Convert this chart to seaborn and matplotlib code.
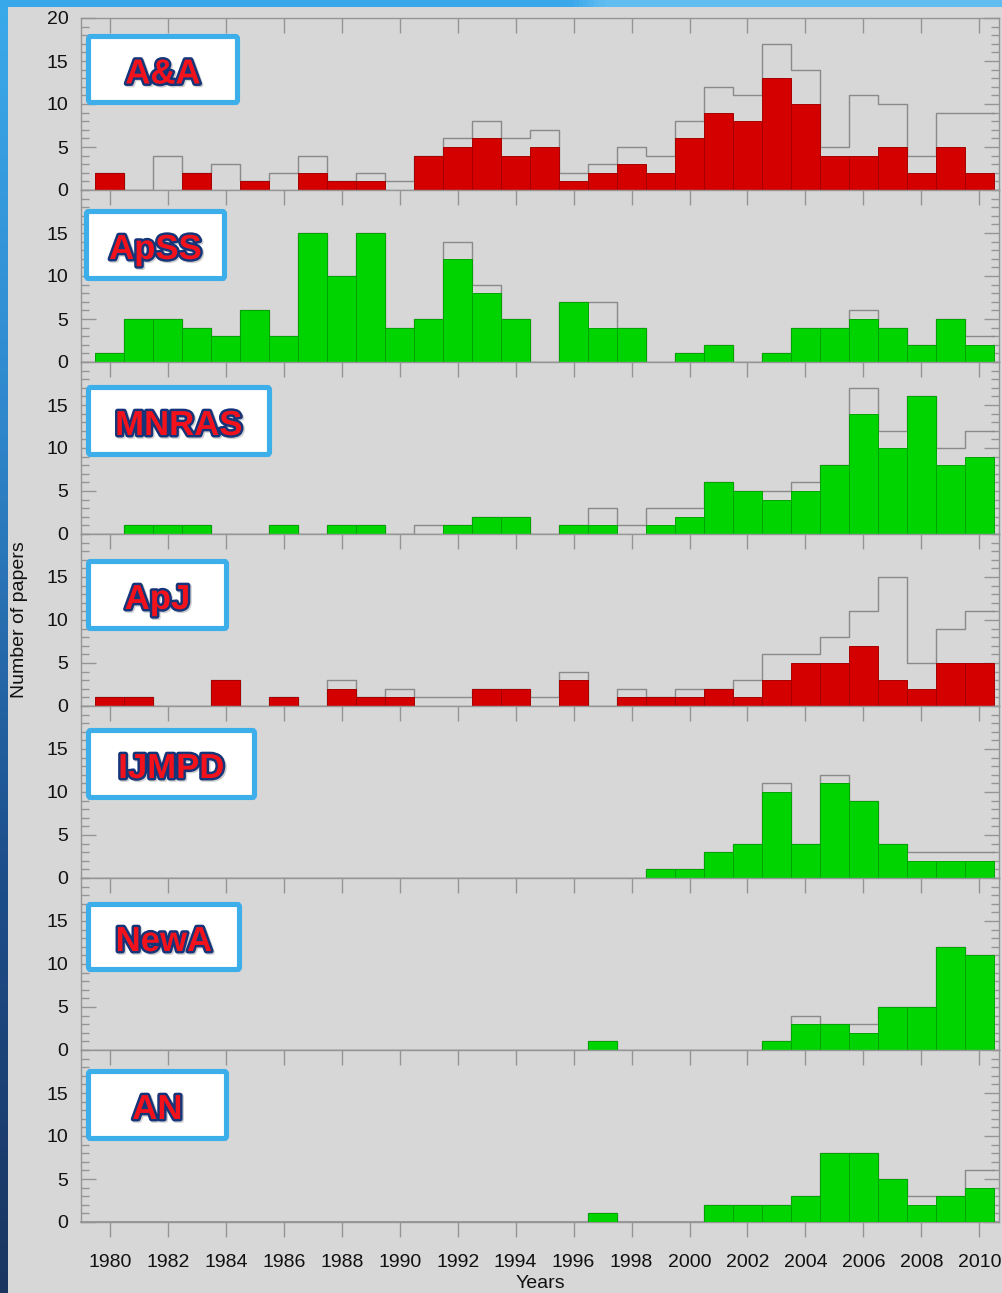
"""Papers per year in seven journals, stacked histogram panels."""

import matplotlib
matplotlib.use('Agg')  # no display
import matplotlib.pyplot as plt
import matplotlib.patheffects as pe
from matplotlib.patches import FancyBboxPatch
from matplotlib.colors import LinearSegmentedColormap
from matplotlib.ticker import MultipleLocator
import numpy as np
import seaborn as sns

# ---- data ----
years = list(range(1980, 2011))
journals = ["A&A", "ApSS", "MNRAS", "ApJ", "IJMPD", "NewA", "AN"]

# filled bars
aa_sel = [2, 0, 0, 2, 0, 1, 0, 2, 1, 1, 0, 4, 5, 6, 4, 5, 1, 2, 3, 2, 6, 9, 8, 13, 10, 4, 4, 5, 2, 5, 2]
apss_sel = [1, 5, 5, 4, 3, 6, 3, 15, 10, 15, 4, 5, 12, 8, 5, 0, 7, 4, 4, 0, 1, 2, 0, 1, 4, 4, 5, 4, 2, 5, 2]
mnras_sel = [0, 1, 1, 1, 0, 0, 1, 0, 1, 1, 0, 0, 1, 2, 2, 0, 1, 1, 0, 1, 2, 6, 5, 4, 5, 8, 14, 10, 16, 8, 9]
apj_sel = [1, 1, 0, 0, 3, 0, 1, 0, 2, 1, 1, 0, 0, 2, 2, 0, 3, 0, 1, 1, 1, 2, 1, 3, 5, 5, 7, 3, 2, 5, 5]
ijmpd_sel = [0] * 19 + [1, 1, 3, 4, 10, 4, 11, 9, 4, 2, 2, 2]
newa_sel = [0] * 17 + [1, 0, 0, 0, 0, 0, 1, 3, 3, 2, 5, 5, 12, 11]
an_sel = [0] * 17 + [1, 0, 0, 0, 2, 2, 2, 3, 8, 8, 5, 2, 3, 4]

# grey outline (all papers)
aa_all = [2, 0, 4, 2, 3, 1, 2, 4, 1, 2, 1, 4, 6, 8, 6, 7, 2, 3, 5, 4, 8, 12, 11, 17, 14, 5, 11, 10, 4, 9, 9]
apss_all = [1, 5, 5, 4, 3, 6, 3, 15, 10, 15, 4, 5, 14, 9, 5, 0, 7, 7, 4, 0, 1, 2, 0, 1, 4, 4, 6, 4, 2, 5, 3]
mnras_all = [0, 1, 1, 1, 0, 0, 1, 0, 1, 1, 0, 1, 1, 2, 2, 0, 1, 3, 1, 3, 3, 6, 5, 5, 6, 8, 17, 12, 16, 10, 12]
apj_all = [1, 1, 0, 0, 3, 0, 1, 0, 3, 1, 2, 1, 1, 2, 2, 1, 4, 0, 2, 1, 2, 2, 3, 6, 6, 8, 11, 15, 5, 9, 11]
ijmpd_all = [0] * 19 + [1, 1, 3, 4, 11, 4, 12, 9, 4, 3, 3, 3]
newa_all = [0] * 17 + [1, 0, 0, 0, 0, 0, 1, 4, 3, 3, 5, 5, 12, 11]
an_all = [0] * 17 + [1, 0, 0, 0, 2, 2, 2, 3, 8, 8, 5, 3, 3, 6]

selected = [aa_sel, apss_sel, mnras_sel, apj_sel, ijmpd_sel, newa_sel, an_sel]
totals = [aa_all, apss_all, mnras_all, apj_all, ijmpd_all, newa_all, an_all]

# ---- style / layout ----
W, H = 1003, 1293
BG = '#d7d7d7'
RED, RED_EDGE = '#d40000', '#a50000'
GREEN, GREEN_EDGE = '#00d400', '#00a300'
bar_colors = [RED, GREEN, GREEN, RED, GREEN, GREEN, GREEN]
edge_colors = [RED_EDGE, GREEN_EDGE, GREEN_EDGE, RED_EDGE, GREEN_EDGE, GREEN_EDGE, GREEN_EDGE]
AXIS_GREY = '#959595'

# label boxes in pixels: x0, y0, x1, y1 (outer edges)
label_boxes = [
    (86, 34, 240, 105),
    (84, 209, 227, 281),
    (86, 385, 272, 457),
    (86, 559, 229, 631),
    (86, 728, 257, 800),
    (86, 902, 242, 972),
    (86, 1069, 229, 1141),
]

sns.set_theme(style="white")
plt.rcParams['font.family'] = ['Liberation Sans', 'DejaVu Sans']

fig, axes = plt.subplots(7, 1, sharex=True, figsize=(W / 100, H / 100), dpi=100)
fig.patch.set_facecolor(BG)
fig.subplots_adjust(left=81 / W, right=999 / W, top=1 - 18 / H, bottom=1 - 1222 / H, hspace=0)

for i, ax in enumerate(axes):
    ax.set_facecolor(BG)

    # outline of all papers
    sns.histplot(x=years, weights=totals[i], discrete=True, element='step', fill=False,
                 color='#8a8a8a', linewidth=1.0, ax=ax)
    # filled bars
    sns.histplot(x=years, weights=selected[i], discrete=True, color=bar_colors[i],
                 edgecolor=edge_colors[i], linewidth=0.7, alpha=1, ax=ax, zorder=3)
    for p in ax.patches:
        if p.get_height() == 0:
            p.set_visible(False)

    ax.set_xlim(1979.0, 2010.68)
    ax.set_ylim(0, 20)
    ax.set_ylabel('')
    ax.set_xlabel('')

    ax.set_yticks([0, 5, 10, 15, 20] if i == 0 else [0, 5, 10, 15])
    ax.yaxis.set_minor_locator(MultipleLocator(1))
    ax.tick_params(axis='y', which='major', direction='in', left=True, right=True,
                   length=11, width=1, color=AXIS_GREY, labelsize=14, pad=9, labelcolor='#111111')
    ax.tick_params(axis='y', which='minor', direction='in', left=True, right=True,
                   length=6, width=1, color=AXIS_GREY)

    ax.set_xticks(range(1980, 2011, 2))
    ax.tick_params(axis='x', which='major', direction='in', top=True, bottom=False,
                   labelbottom=False, length=11, width=1, color=AXIS_GREY)

    for s in ax.spines.values():
        s.set_color(AXIS_GREY)
        s.set_linewidth(1)

# bottom axis with outward ticks and year labels
sec = axes[-1].secondary_xaxis('bottom')
sec.set_xticks(range(1980, 2011, 2))
sec.tick_params(direction='out', length=11, width=1, color=AXIS_GREY, labelsize=14,
                pad=12, labelcolor='#111111')
sec.spines['bottom'].set_color(AXIS_GREY)
sec.set_xlabel('Years', fontsize=14, labelpad=3, color='#111111')

fig.text(20 / W, 1 - 620 / H, 'Number of papers', rotation=90, ha='center', va='center',
         fontsize=14, color='#111111')

# journal label boxes
text_fx = [
    pe.SimpleLineShadow(offset=(1, -1), shadow_color='#606060', alpha=0.3, linewidth=3.5),
    pe.Stroke(linewidth=3.5, foreground='#15357a'),
    pe.Normal(),
]
for name, (x0, y0, x1, y1) in zip(journals, label_boxes):
    box = FancyBboxPatch((x0 / W + 2.5 / W, 1 - (y1 - 2.5) / H), (x1 - x0 - 5) / W, (y1 - y0 - 5) / H,
                         boxstyle='round,pad=0,rounding_size=0.002', transform=fig.transFigure,
                         facecolor='white', edgecolor='#3caeea', linewidth=3.7, zorder=5)
    fig.add_artist(box)
    cx = (x0 + x1) / 2
    base = (y0 + y1) / 2 + 14
    fig.text(cx / W, 1 - base / H, name, ha='center', va='baseline', fontsize=25,
             fontweight='bold', color='#f2121c', path_effects=text_fx, zorder=6)

# blue frame strips on the left and top
left_cmap = LinearSegmentedColormap.from_list('lf', ['#3aaaeb', '#2f86cb', '#1d4f8c', '#1a3560'])
lax = fig.add_axes([0, 0, 8 / W, 1])
lax.imshow(np.linspace(0, 1, 256).reshape(-1, 1), aspect='auto', cmap=left_cmap)
lax.axis('off')

top_cmap = LinearSegmentedColormap.from_list('tf', ['#39a8ea', '#3aa9eb', '#5ebbf0', '#62bdf1'])
tax = fig.add_axes([0, 1 - 7 / H, 1, 7 / H])
tax.imshow(np.concatenate([np.full(150, 0.0), np.linspace(0.3, 0.7, 10), np.full(105, 1.0)]).reshape(1, -1),
           aspect='auto', cmap=top_cmap)
tax.axis('off')

fig.savefig('out.png', dpi=100, facecolor=fig.get_facecolor())
plt.close(fig)
